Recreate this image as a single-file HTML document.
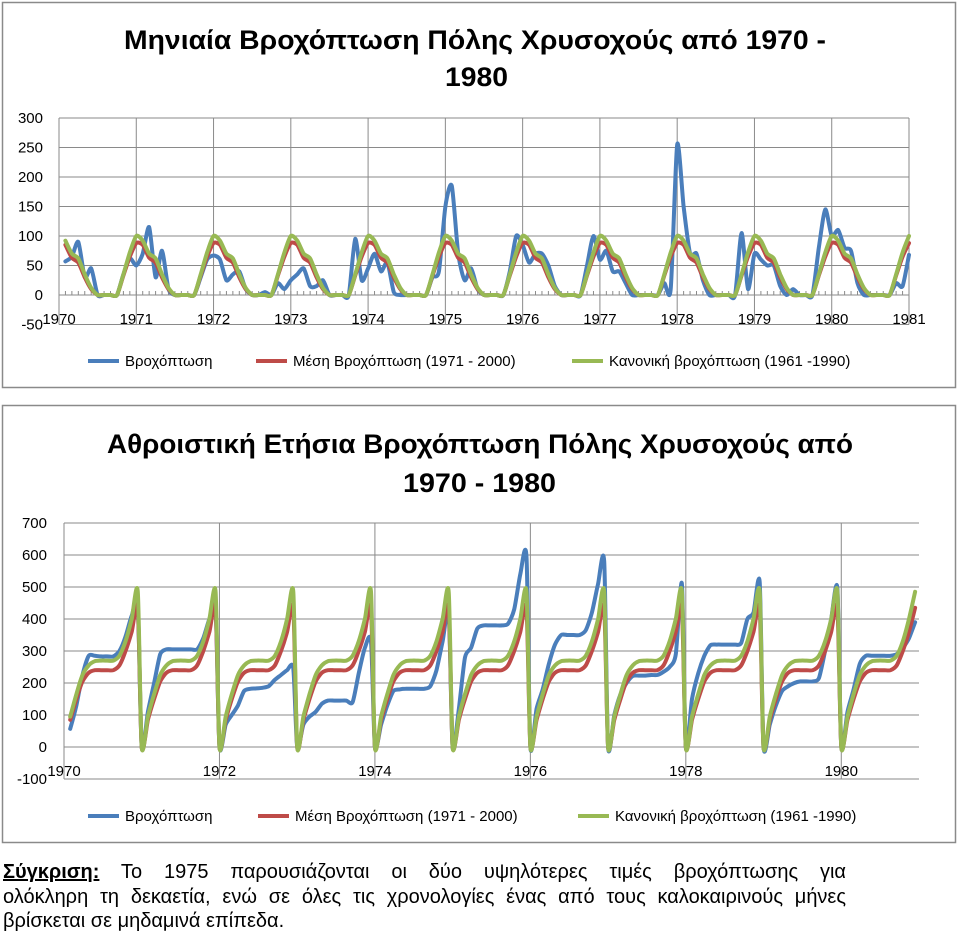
<!DOCTYPE html>
<html><head><meta charset="utf-8">
<style>
body{margin:0;background:#fff;width:960px;height:936px;overflow:hidden;font-family:"Liberation Sans",sans-serif}
svg{position:absolute;left:0;top:0}
#caption{position:absolute;left:3px;top:860px;width:843px;font-size:20px;line-height:24.6px;color:#000;font-family:"Liberation Sans",sans-serif}
#caption .ln{text-align:justify;text-align-last:justify;white-space:nowrap}
#caption .last{text-align:left;white-space:nowrap}
#caption b{text-decoration:underline}
</style></head>
<body>
<svg id="chart" width="960" height="936" xmlns="http://www.w3.org/2000/svg"></svg>
<div id="caption">
<div class="ln" style="white-space:normal"><b>Σύγκριση:</b> Το 1975 παρουσιάζονται οι δύο υψηλότερες τιμές βροχόπτωσης για</div>
<div class="ln" style="white-space:normal">ολόκληρη τη δεκαετία, ενώ σε όλες τις χρονολογίες ένας από τους καλοκαιρινούς μήνες</div>
<div class="last">βρίσκεται σε μηδαμινά επίπεδα.</div>
</div>
<script>
// ---- Monthly chart data (Jan..Dec per year, 1970-1980) ----
const years = [1970,1971,1972,1973,1974,1975,1976,1977,1978,1979,1980];
const monthlyRain = [
 57,65,90,30,45,0,0,0,0,35,62,50,
 70,115,30,75,10,0,0,0,0,30,60,67,
 60,25,35,40,10,0,0,5,0,20,10,25,
 35,45,15,15,25,0,0,0,0,95,25,45,
 70,40,55,5,0,0,0,0,0,30,40,150,
 185,70,25,45,10,0,0,0,0,40,100,85,
 55,70,70,50,15,0,0,0,0,50,100,60,
 75,40,40,20,0,0,0,0,0,20,10,255,
 150,70,70,25,0,0,0,0,0,105,10,70,
 60,50,50,15,0,10,0,0,0,80,145,100,
 110,80,75,20,0,0,0,0,0,20,15,68
];
const meanMonthly = [85,63,55,30,10,0,0,0,0,33,65,88];
const normalMonthly = [92,70,62,35,12,0,0,0,0,35,72,100];
const topTicks = [300,250,200,150,100,50,0,-50];
const topYearLabels = [1970,1971,1972,1973,1974,1975,1976,1977,1978,1979,1980,1981];

// ---- Cumulative chart data ----
const cumRain = [
 [57,130,225,285,285,283,283,283,300,345,410,440],
 [110,200,290,305,305,305,305,305,305,340,400,440],
 [70,100,130,175,182,183,185,190,210,225,240,245],
 [70,95,110,135,145,145,145,145,140,230,310,330],
 [70,130,175,180,182,182,182,182,190,240,330,420],
 [120,280,310,370,380,380,380,380,385,430,540,595],
 [120,180,260,320,350,350,350,350,365,420,510,580],
 [100,165,200,222,223,223,225,225,235,250,290,510],
 [150,230,285,318,320,320,320,320,325,400,420,515],
 [70,130,175,190,200,205,205,205,215,300,400,495],
 [110,180,260,285,285,285,285,285,290,310,340,390]
];
const cumMean = [85,150,205,232,240,240,240,240,255,300,360,435];
const cumNormal = [95,165,225,255,268,270,270,270,285,330,400,485];
const botTicks = [700,600,500,400,300,200,100,0,-100];
const botYearLabels = [1970,1972,1974,1976,1978,1980];

const NS="http://www.w3.org/2000/svg";
const svg=document.getElementById('chart');
function mk(tag,attrs,parent){const e=document.createElementNS(NS,tag);for(const k in attrs)e.setAttribute(k,attrs[k]);(parent||svg).appendChild(e);return e;}
function spline(pts){
  let d='M'+pts[0][0].toFixed(1)+','+pts[0][1].toFixed(1);
  for(let i=0;i<pts.length-1;i++){
    const p0=pts[Math.max(0,i-1)],p1=pts[i],p2=pts[i+1],p3=pts[Math.min(pts.length-1,i+2)];
    const t=0.12;
    const c1=[p1[0]+(p2[0]-p0[0])*t,p1[1]+(p2[1]-p0[1])*t];
    const c2=[p2[0]-(p3[0]-p1[0])*t,p2[1]-(p3[1]-p1[1])*t];
    d+=' C'+c1[0].toFixed(1)+','+c1[1].toFixed(1)+' '+c2[0].toFixed(1)+','+c2[1].toFixed(1)+' '+p2[0].toFixed(1)+','+p2[1].toFixed(1);
  }
  return d;
}
const BLUE='#4a7ebb',RED='#be4b48',GREEN='#98b954',GRID='#8a8a8a';

let f1=mk('rect',{x:2.5,y:2.5,width:953,height:385,fill:'none',stroke:'#8a8a8a','stroke-width':1.5});


let f2=mk('rect',{x:2.5,y:405.5,width:953,height:437,fill:'none',stroke:'#8a8a8a','stroke-width':1.5});



function title(txt,x,y,w,name){
  const t=mk('text',{x:x,y:y,'font-size':27,'font-weight':'bold','font-family':'Liberation Sans, sans-serif',textLength:w,lengthAdjust:'spacingAndGlyphs',fill:'#000'});
  t.textContent=txt;
  
  
}
title('Μηνιαία Βροχόπτωση Πόλης Χρυσοχούς από 1970 -',124,49,702,'monthly-chart-title');
title('1980',445,86,63,'monthly-chart-title-line2');
title('Αθροιστική Ετήσια Βροχόπτωση Πόλης Χρυσοχούς από',107,453,746,'cumulative-chart-title');
title('1970 - 1980',403,492,153,'cumulative-chart-title-line2');

// ---- Top chart ----
const T={x0:59,x1:909,y0:295,py:0.59};
const tx=t=>T.x0+(t-1970)*(T.x1-T.x0)/11;
const ty=v=>T.y0-v*T.py;
topTicks.forEach(v=>{
  const l=mk('line',{x1:T.x0,x2:T.x1,y1:ty(v),y2:ty(v),stroke:GRID,'stroke-width':1});
  
  
  const t=mk('text',{x:43,y:ty(v)+5,'font-size':15,'text-anchor':'end',fill:'#000'});
  t.textContent=v;
  
  
});
topYearLabels.forEach(yr=>{
  const l=mk('line',{x1:tx(yr),x2:tx(yr),y1:ty(300),y2:ty(-50),stroke:GRID,'stroke-width':1});
  
  
  const t=mk('text',{x:tx(yr),y:324,'font-size':15,'text-anchor':'middle',fill:'#000'});
  t.textContent=yr;
  
  
});
for(let i=1;i<132;i++){
  const l=mk('line',{x1:tx(1970+i/12),x2:tx(1970+i/12),y1:ty(0),y2:ty(0)-4,stroke:GRID,'stroke-width':1});
  
  
}
function topSeries(vals,color,name){
  const pts=vals.map((v,i)=>[tx(1970+(i+1)/12),ty(v)]);
  const p=mk('path',{d:spline(pts),fill:'none',stroke:color,'stroke-width':4,'stroke-linejoin':'round','stroke-linecap':'round'});
  
  
}
const meanAll=[],normAll=[];
years.forEach(()=>{meanAll.push(...meanMonthly);normAll.push(...normalMonthly);});
topSeries(monthlyRain,BLUE,'monthly-rainfall-line');
topSeries(meanAll,RED,'monthly-mean-line');
topSeries(normAll,GREEN,'monthly-normal-line');

// ---- Bottom chart ----
const B={x0:64,x1:919,y0:747,py:0.32};
const bx=t=>B.x0+(t-1970)*(B.x1-B.x0)/11;
const by=v=>B.y0-v*B.py;
botTicks.forEach(v=>{
  const l=mk('line',{x1:B.x0,x2:B.x1,y1:by(v),y2:by(v),stroke:GRID,'stroke-width':1});
  
  
  const t=mk('text',{x:47,y:by(v)+5,'font-size':15,'text-anchor':'end',fill:'#000'});
  t.textContent=v;
  
  
});
botYearLabels.forEach(yr=>{
  const l=mk('line',{x1:bx(yr),x2:bx(yr),y1:by(700),y2:by(-100),stroke:GRID,'stroke-width':1});
  
  
  const t=mk('text',{x:bx(yr),y:776,'font-size':15,'text-anchor':'middle',fill:'#000'});
  t.textContent=yr;
  
  
});
function botSeries(getYear,color,name){
  const pts=[];
  years.forEach((yr,yi)=>{
    const vals=getYear(yi);
    if(yi>0) pts.push([bx(yr),by(0)]);
    vals.forEach((v,k)=>pts.push([bx(yr+0.08+k*0.87/11),by(v)]));
  });
  const p=mk('path',{d:spline(pts),fill:'none',stroke:color,'stroke-width':4,'stroke-linejoin':'round','stroke-linecap':'round'});
  
  
}
botSeries(i=>cumRain[i],BLUE,'cumulative-rainfall-line');
botSeries(()=>cumMean,RED,'cumulative-mean-line');
botSeries(()=>cumNormal,GREEN,'cumulative-normal-line');

// ---- Legends ----
function legend(y,items,prefix){
  items.forEach(it=>{
    const l=mk('line',{x1:it[0],x2:it[0]+31,y1:y,y2:y,stroke:it[2],'stroke-width':4});
    
    
    const t=mk('text',{x:it[0]+37,y:y+5,'font-size':15,fill:'#000'});
    t.textContent=it[1];
    
    
  });
}
legend(361,[[88,'Βροχόπτωση',BLUE],[256,'Μέση Βροχόπτωση (1971 - 2000)',RED],[572,'Κανονική βροχόπτωση (1961 -1990)',GREEN]],'monthly');
legend(816,[[88,'Βροχόπτωση',BLUE],[258,'Μέση Βροχόπτωση (1971 - 2000)',RED],[578,'Κανονική βροχόπτωση (1961 -1990)',GREEN]],'cumulative');
</script>
</body></html>
